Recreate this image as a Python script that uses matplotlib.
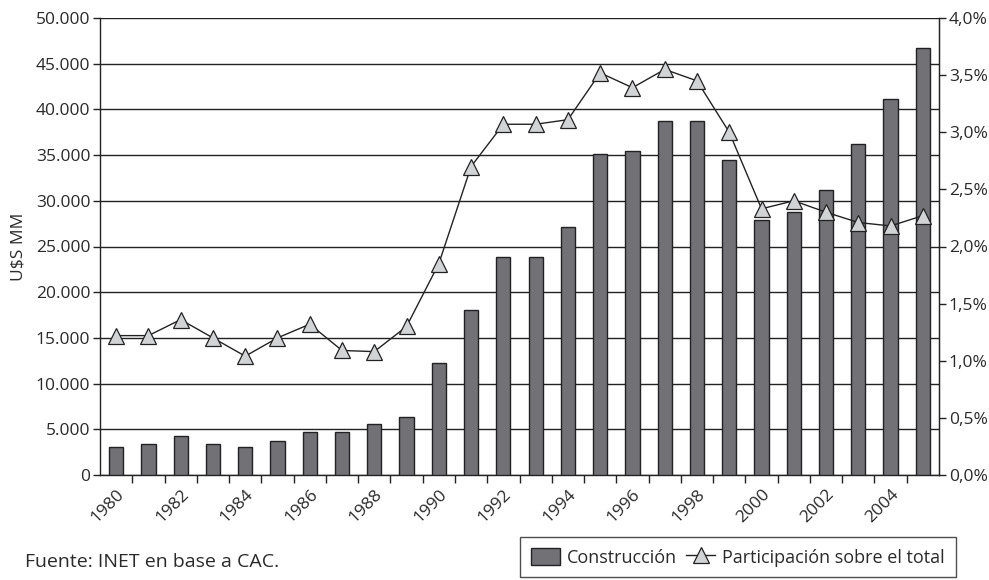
import numpy as np
import matplotlib
matplotlib.use('Agg')
import matplotlib.pyplot as plt
from matplotlib.ticker import FuncFormatter, FixedLocator
from matplotlib.patches import Patch
from matplotlib.lines import Line2D

plt.rcParams['font.family'] = ['Open Sans', 'DejaVu Sans']

years = list(range(1980, 2006))
construccion = [3100, 3400, 4250, 3400, 3100, 3700, 4750, 4750, 5600, 6400,
                12200, 18000, 23800, 23800, 27100, 35100, 35400, 38700, 38700, 34500,
                27900, 28800, 31200, 36200, 41100, 46700]
participacion = [1.22, 1.22, 1.36, 1.20, 1.04, 1.20, 1.32, 1.09, 1.08, 1.30,
                 1.85, 2.70, 3.07, 3.07, 3.11, 3.52, 3.39, 3.55, 3.45, 3.00,
                 2.33, 2.40, 2.30, 2.21, 2.18, 2.27]

bar_color = '#717176'
tri_color = '#d2d3d5'
dark = '#222222'

fig = plt.figure(figsize=(9.89, 5.80), dpi=100)
ax = fig.add_axes([100/989, 1 - 475/580, (939 - 100)/989, (475 - 18)/580])
x = np.arange(len(years))

ax.bar(x, construccion, width=0.44, color=bar_color, edgecolor=dark, linewidth=1.0, zorder=3)
ax.set_xlim(-0.5, len(years) - 0.5)
ax.set_ylim(0, 50000)
ax.set_yticks(np.arange(0, 50001, 5000))
ax.yaxis.set_major_formatter(FuncFormatter(lambda v, p: f'{int(v):,}'.replace(',', '.')))
ax.grid(axis='y', color=dark, linewidth=1.0, zorder=0)
ax.set_axisbelow(True)

# labels every 2 years, tick marks between categories
ax.set_xticks(x[::2])
ax.set_xticklabels([str(y) for y in years[::2]], rotation=45, ha='right',
                   rotation_mode='anchor', fontsize=12.5, color='#2a2a2a')
ax.tick_params(axis='x', which='major', length=0, pad=8)
ax.xaxis.set_minor_locator(FixedLocator(np.arange(0.5, len(years) - 0.5, 1)))
ax.tick_params(axis='x', which='minor', length=6, width=1.0, color=dark, direction='out')
ax.tick_params(axis='y', length=5, width=1.0, color=dark, labelsize=12.5, labelcolor='#2a2a2a', pad=2)
ax.set_ylabel('U$S MM', fontsize=12.5, color='#2a2a2a', labelpad=7)

for s in ['left', 'bottom', 'right']:
    ax.spines[s].set_color(dark)
    ax.spines[s].set_linewidth(1.0)
ax.spines['top'].set_visible(False)

ax2 = ax.twinx()
ax2.plot(x, participacion, color=dark, linewidth=1.0, marker='^', markersize=12,
         markerfacecolor=tri_color, markeredgecolor=dark, markeredgewidth=0.9, zorder=5)
ax2.set_ylim(0, 4.0)
ax2.set_yticks(np.arange(0, 4.01, 0.5))
ax2.yaxis.set_major_formatter(FuncFormatter(lambda v, p: f'{v:.1f}%'.replace('.', ',')))
ax2.tick_params(axis='y', length=5, width=1.0, color=dark, labelsize=12.5, labelcolor='#2a2a2a', pad=2)
for s in ['left', 'bottom', 'top']:
    ax2.spines[s].set_visible(False)
ax2.spines['right'].set_color(dark)

fig.text(25/989, 1 - 562/580, 'Fuente: INET en base a CAC.', fontsize=14,
         color='#2a2a2a', va='center', ha='left')

handles = [Patch(facecolor=bar_color, edgecolor=dark, linewidth=1.0),
           Line2D([0], [0], color=dark, linewidth=1.0, marker='^', markersize=12,
                  markerfacecolor=tri_color, markeredgecolor=dark, markeredgewidth=0.9)]
leg = fig.legend(handles, ['Construcción', 'Participación sobre el total'],
                 loc='upper left', bbox_to_anchor=(520/989, 1 - 537/580),
                 ncol=2, fontsize=13, frameon=True, fancybox=False,
                 handlelength=1.6, handleheight=1.1, handletextpad=0.4, columnspacing=0.5,
                 borderpad=0.6, borderaxespad=0)
leg.get_frame().set_edgecolor(dark)
leg.get_frame().set_linewidth(1.0)
for t in leg.get_texts():
    t.set_color('#2a2a2a')

fig.savefig('out.png', dpi=100)
